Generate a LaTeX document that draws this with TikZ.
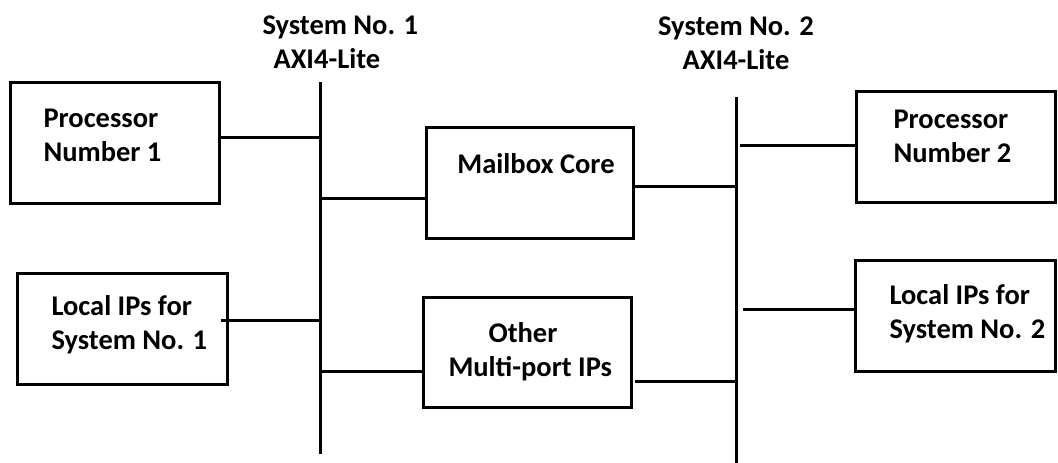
\documentclass[tikz,border=0pt]{standalone}
\usepackage{fontspec}
\setmainfont{Carlito}
\usetikzlibrary{positioning}

\begin{document}
\begin{tikzpicture}[x=1pt,y=-1pt,line width=3pt,
  box/.style={draw,rectangle,inner sep=0pt},
  txt/.style={font=\fontsize{28.5}{34}\selectfont\bfseries,inner sep=0pt,align=left},
  ttl/.style={font=\fontsize{28.5}{34}\selectfont\bfseries,inner sep=0pt,align=center}]
\useasboundingbox (0,0) rectangle (1058,463);
% boxes
\node[box,minimum width=209pt,minimum height=121pt] (proc1) at (114.5,142.5) {};
\node[box,minimum width=210pt,minimum height=111pt] (local1) at (122,329) {};
\node[box,minimum width=207pt,minimum height=111pt] (mbox) at (530,183) {};
\node[box,minimum width=208pt,minimum height=110pt] (other) at (527,352.5) {};
\node[box,minimum width=199pt,minimum height=111pt] (proc2) at (955.5,146.5) {};
\node[box,minimum width=200pt,minimum height=111pt] (local2) at (955,315.5) {};
% texts
\node[txt,anchor=west] (proc1txt) at (42,135) {Processor\\Number 1};
\node[txt,anchor=west] (local1txt) at (50,325) {Local IPs for\\System No. 1};
\node[txt] (mboxtxt) at (536,164) {Mailbox Core};
\node[txt,anchor=west] (othertxt) at (447,352) {\hspace*{40pt}Other\\Multi-port IPs};
\node[txt,anchor=west] (proc2txt) at (892,136) {Processor\\Number 2};
\node[txt,anchor=west] (local2txt) at (888,314) {Local IPs for\\System No. 2};
\node[ttl,align=left,anchor=west] (sys1) at (261,42) {System No. 1\\\hspace*{11pt}AXI4-Lite};
\node[ttl] (sys2) at (736,43) {System No. 2\\AXI4-Lite};
% buses
\coordinate (bus1top) at (320,82);
\coordinate (bus1bot) at (320,454);
\coordinate (bus2top) at (736,97);
\coordinate (bus2bot) at (736,463);
\draw (bus1top) -- (bus1bot);
\draw (bus2top) -- (bus2bot);
% links
\draw (proc1.east |- 0,137) -- (bus1top |- 0,137);
\draw ([xshift=-8pt]local1.east |- 0,320) -- (bus1top |- 0,320);
\draw (bus1top |- 0,198) -- (mbox.west |- 0,198);
\draw (bus1top |- 0,371) -- (other.west |- 0,371);
\draw (mbox.east |- 0,186) -- (bus2top |- 0,186);
\draw ([xshift=2pt]other.east |- 0,381) -- (bus2top |- 0,381);
\draw ([xshift=4pt]bus2top |- 0,145) -- (proc2.west |- 0,145);
\draw ([xshift=7pt]bus2top |- 0,309) -- (local2.west |- 0,309);
\end{tikzpicture}
\end{document}
